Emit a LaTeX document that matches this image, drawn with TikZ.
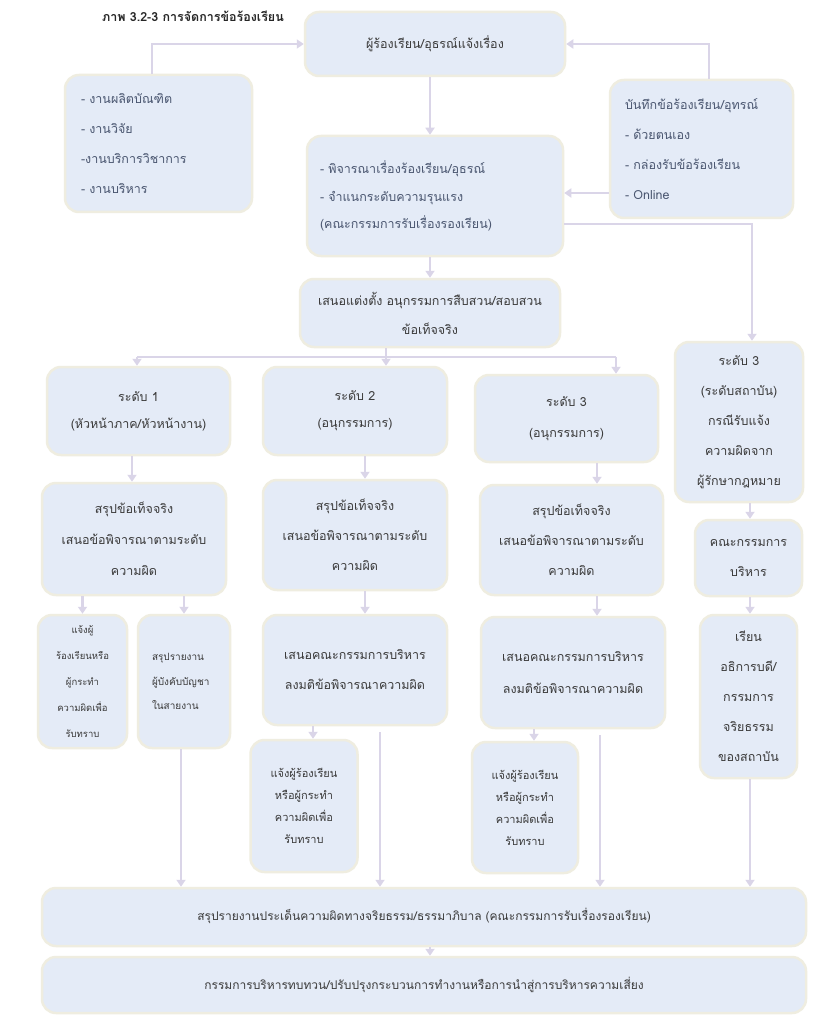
\documentclass[tikz,border=0pt]{standalone}
\usepackage{fontspec}
\newfontfamily\thai[Script=Thai]{Loma}
\usetikzlibrary{arrows.meta}
\definecolor{boxfill}{HTML}{E4EBF7}
\definecolor{boxedge}{HTML}{EFEDE0}
\definecolor{arrc}{HTML}{DAD5E8}
\definecolor{txt}{HTML}{3A3A3A}
\definecolor{txtb}{HTML}{4A5670}
\tikzset{
  box/.style={draw=boxedge, line width=2.5pt, fill=boxfill, rounded corners=14pt,
    align=center, text=txt, inner sep=0pt,
    font=\thai\fontsize{12.5}{30}\selectfont},
  smallbox/.style={box, font=\thai\fontsize{10}{25}\selectfont},
  arr/.style={draw=arrc, line width=2.6pt, -{Triangle[width=9pt,length=7pt]}},
  plain/.style={draw=arrc, line width=2.6pt},
}
\begin{document}
\begin{tikzpicture}[x=1pt,y=-1pt]
\useasboundingbox[fill=white] (0,0) rectangle (831,1024);

\node[font=\thai\bfseries\fontsize{12.5}{15}\selectfont, text=black!85] (title) at (193,16) {ภาพ 3.2-3 การจัดการข้อร้องเรียน};

\node[box, minimum width=260, minimum height=64] (top) at (435,44) {ผู้ร้องเรียน/อุธรณ์แจ้งเรื่อง};
\node[box, minimum width=187, minimum height=137, text width=155, align=left, text=txtb] (left) at (158.5,143.5)
  {- งานผลิตบัณฑิต\\- งานวิจัย\\-งานบริการวิชาการ\\- งานบริหาร};
\node[box, minimum width=183, minimum height=138, text width=153, align=left, text=txtb] (right) at (701.5,149)
  {บันทึกข้อร้องเรียน/อุทรณ์\\- ด้วยตนเอง\\- กล่องรับข้อร้องเรียน\\- Online};
\node[box, minimum width=256, minimum height=120, text width=230, align=left, text=txtb, font=\thai\fontsize{12.5}{27.5}\selectfont] (middle) at (435,196)
  {- พิจารณาเรื่องร้องเรียน/อุธรณ์\\- จำแนกระดับความรุนแรง\\(คณะกรรมการรับเรื่องรองเรียน)};
\node[box, minimum width=260, minimum height=68, font=\thai\fontsize{12.5}{29}\selectfont] (appoint) at (430,313)
  {เสนอแต่งตั้ง อนุกรรมการสืบสวน/สอบสวน\\ข้อเท็จจริง};

\node[box, minimum width=183, minimum height=88, font=\thai\fontsize{12.5}{27}\selectfont] (L1) at (138.5,411) {ระดับ 1\\(หัวหน้าภาค/หัวหน้างาน)};
\node[box, minimum width=184, minimum height=88, font=\thai\fontsize{12.5}{27}\selectfont] (L2) at (355,411) {ระดับ 2\\(อนุกรรมการ)};
\node[box, minimum width=183, minimum height=87, font=\thai\fontsize{12.5}{31}\selectfont] (L3) at (566.5,418.5) {ระดับ 3\\(อนุกรรมการ)};
\node[box, minimum width=128, minimum height=160, font=\thai\fontsize{12.5}{30}\selectfont] (L3i) at (739,422)
  {ระดับ 3\\(ระดับสถาบัน)\\กรณีรับแจ้ง\\ความผิดจาก\\ผู้รักษากฎหมาย};

\node[box, minimum width=184, minimum height=112, font=\thai\fontsize{12.5}{31}\selectfont] (S1) at (134,539)
  {สรุปข้อเท็จจริง\\เสนอข้อพิจารณาตามระดับ\\ความผิด};
\node[box, minimum width=184, minimum height=110, font=\thai\fontsize{12.5}{30}\selectfont] (S2) at (355,535)
  {สรุปข้อเท็จจริง\\เสนอข้อพิจารณาตามระดับ\\ความผิด};
\node[box, minimum width=183, minimum height=110, font=\thai\fontsize{12.5}{30}\selectfont] (S3) at (571.5,540)
  {สรุปข้อเท็จจริง\\เสนอข้อพิจารณาตามระดับ\\ความผิด};
\node[box, minimum width=107, minimum height=76] (K) at (748.5,558) {คณะกรรมการ\\บริหาร};

\node[smallbox, minimum width=89, minimum height=133, font=\thai\fontsize{9.5}{26}\selectfont] (N1a) at (82.5,681.5)
  {แจ้งผู้\\ร้องเรียนหรือ\\ผู้กระทำ\\ความผิดเพื่อ\\รับทราบ};
\node[smallbox, minimum width=92, minimum height=133, text width=64, align=left, font=\thai\fontsize{10}{24.5}\selectfont] (N1b) at (184,681.5)
  {สรุปรายงาน\\ผู้บังคับบัญชา\\ในสายงาน\\};
\node[box, minimum width=184, minimum height=110] (P2) at (355,670) {เสนอคณะกรรมการบริหาร\\ลงมติข้อพิจารณาความผิด};
\node[box, minimum width=184, minimum height=111, font=\thai\fontsize{12.5}{32}\selectfont] (P3) at (573,672.5) {เสนอคณะกรรมการบริหาร\\ลงมติข้อพิจารณาความผิด};
\node[box, minimum width=97, minimum height=163] (R) at (748.5,696.5) {เรียน\\อธิการบดี/\\กรรมการ\\จริยธรรม\\ของสถาบัน};

\node[smallbox, minimum width=107, minimum height=132, font=\thai\fontsize{11}{22}\selectfont] (N2) at (304,806)
  {แจ้งผู้ร้องเรียน\\หรือผู้กระทำ\\ความผิดเพื่อ\\รับทราบ};
\node[smallbox, minimum width=106, minimum height=131, font=\thai\fontsize{11}{22}\selectfont] (N3) at (525,807.5)
  {แจ้งผู้ร้องเรียน\\หรือผู้กระทำ\\ความผิดเพื่อ\\รับทราบ};

\node[box, minimum width=764, minimum height=58, font=\thai\fontsize{12}{14}\selectfont] (B1) at (424,917)
  {\raisebox{5pt}{สรุปรายงานประเด็นความผิดทางจริยธรรม/ธรรมาภิบาล (คณะกรรมการรับเรื่องรองเรียน)}};
\node[box, minimum width=764, minimum height=56, font=\thai\fontsize{12}{14}\selectfont] (B2) at (424,985)
  {กรรมการบริหารทบทวน/ปรับปรุงกระบวนการทำงานหรือการนำสู่การบริหารความเสี่ยง};

% helper columns
\coordinate (c386) at (386,357);
\coordinate (c137) at (137,357);
\coordinate (c616) at (616,357);
\coordinate (c597) at (597,0);
\coordinate (c365) at (365,0);
\coordinate (c380) at (380,0);
\coordinate (c600) at (600,0);
\coordinate (c313) at (313,0);
\coordinate (c534) at (534,0);
\coordinate (c750) at (750,0);
\coordinate (c752) at (752,0);
\coordinate (c709) at (709,0);
\coordinate (c152) at (152,0);
\coordinate (c430) at (430,0);
\coordinate (c181) at (181,0);
\coordinate (c132) at (132,0);

% top section
\draw[arr] (left.north -| c152) |- (top.west);
\draw[arr] (right.north -| c709) |- (top.east);
\draw[arr] (top.south -| c430) -- (middle.north -| c430);
\draw[arr] (right.west |- 0,193) -- (middle.east |- 0,193);
\draw[arr] (middle.east |- 0,224) -| (L3i.north -| c752);
\draw[arr] (middle.south -| c430) -- (appoint.north -| c430);

% branch
\draw[arr] (appoint.south -| c386) -- (L2.north -| c386);
\draw[plain] (c137) -- (c616);
\draw[arr] (c137) -- (L1.north -| c137);
\draw[arr] (c616) -- (L3.north -| c616);

% level -> summary
\draw[arr] (L1.south -| c132) -- (S1.north -| c132);
\draw[arr] (L2.south -| c365) -- (S2.north -| c365);
\draw[arr] (L3.south -| c597) -- (S3.north -| c597);
\draw[arr] (L3i.south -| c750) -- (K.north -| c750);

% summary -> next
\draw[arr] (S1.south -| N1a.north) -- (N1a.north);
\draw[arr] (S1.south -| N1b.north) -- (N1b.north);
\draw[arr] (S2.south -| c365) -- (P2.north -| c365);
\draw[arr] (S3.south -| c597) -- (P3.north -| c597);
\draw[arr] (K.south -| c750) -- (R.north -| c750);

\draw[arr] (P2.south -| c313) -- (N2.north -| c313);
\draw[arr] (P3.south -| c534) -- (N3.north -| c534);

% to bottom
\draw[arr] (N1b.south -| c181) -- (B1.north -| c181);
\draw[arr] ([yshift=-6pt]P2.south -| c380) -- (B1.north -| c380);
\draw[arr] ([yshift=-6pt]P3.south -| c600) -- (B1.north -| c600);
\draw[arr] (R.south -| c750) -- (B1.north -| c750);
\draw[arr] (B1.south -| c430) -- (B2.north -| c430);
\end{tikzpicture}
\end{document}
